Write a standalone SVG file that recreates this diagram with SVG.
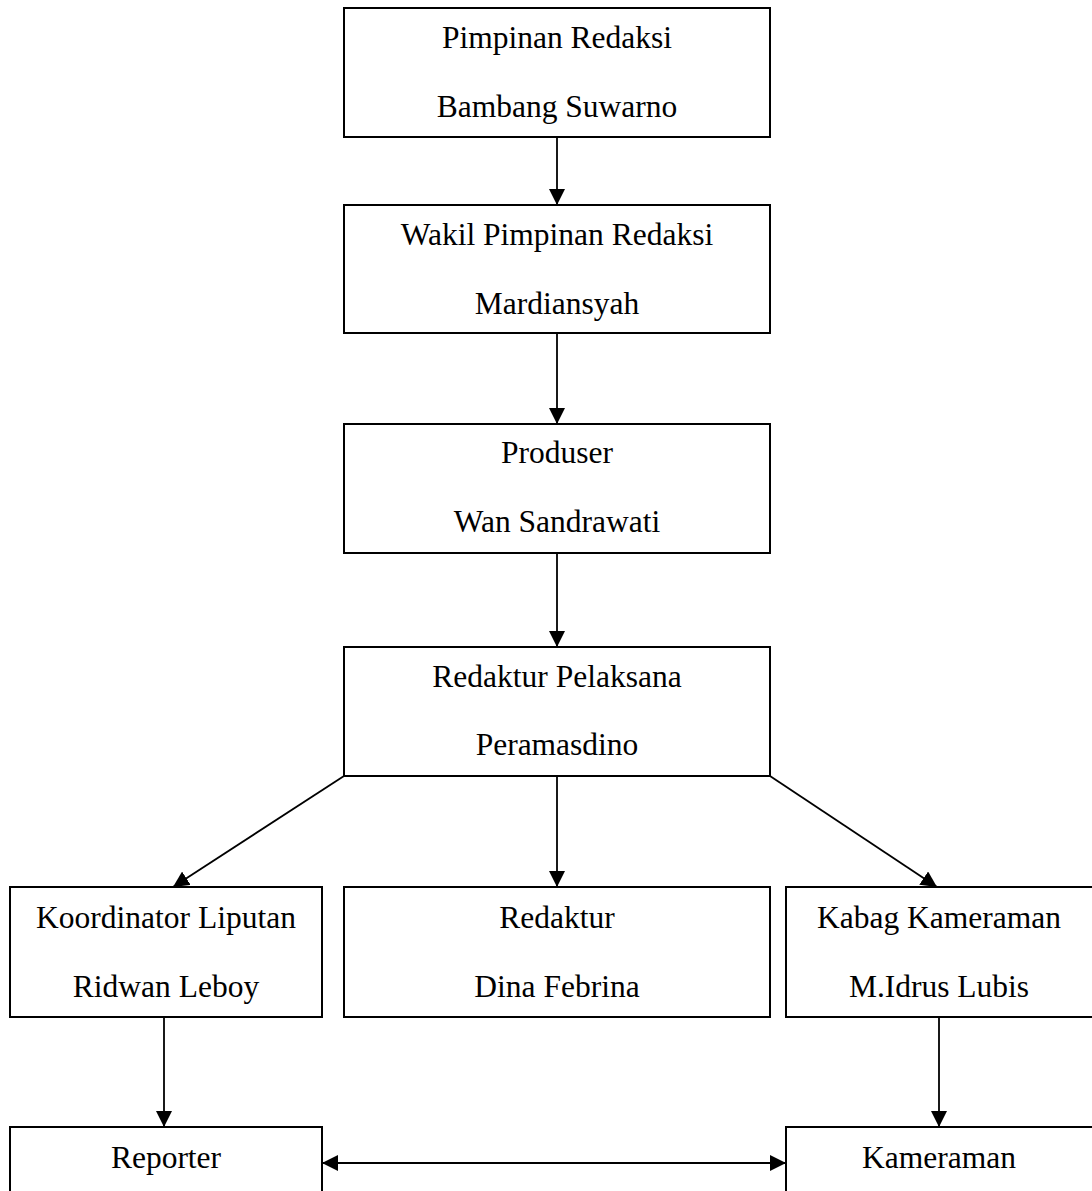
<svg xmlns="http://www.w3.org/2000/svg" width="1092" height="1191" viewBox="0 0 1092 1191">
<style>
.box{fill:#fff;stroke:#000;stroke-width:2}
.lbl{font-family:"Liberation Serif","Times New Roman",serif;font-size:31.5px;fill:#000;text-anchor:middle}
.con{stroke:#000;stroke-width:1.8;fill:none}
</style>
<defs>
<marker id="ah" viewBox="0 0 16 16" refX="16" refY="8" markerWidth="16" markerHeight="16" markerUnits="userSpaceOnUse" orient="auto-start-reverse">
<path d="M0,0 L16,8 L0,16 Z" fill="#000"/>
</marker>
</defs>
<rect width="1092" height="1191" fill="#fff"/>
<g id="connectors">
<line class="con" x1="557" y1="137" x2="557" y2="205" marker-end="url(#ah)"/>
<line class="con" x1="557" y1="333" x2="557" y2="424" marker-end="url(#ah)"/>
<line class="con" x1="557" y1="553" x2="557" y2="647" marker-end="url(#ah)"/>
<line class="con" x1="557" y1="776" x2="557" y2="887" marker-end="url(#ah)"/>
<line class="con" x1="344" y1="776" x2="173" y2="887" marker-end="url(#ah)"/>
<line class="con" x1="770" y1="776" x2="937" y2="887" marker-end="url(#ah)"/>
<line class="con" x1="164" y1="1017" x2="164" y2="1127" marker-end="url(#ah)"/>
<line class="con" x1="939" y1="1017" x2="939" y2="1127" marker-end="url(#ah)"/>
<line class="con" x1="322" y1="1163" x2="786" y2="1163" marker-start="url(#ah)" marker-end="url(#ah)"/>
</g>
<g id="pimpinan">
<rect class="box" x="344" y="8" width="426" height="129"/>
<text class="lbl" x="557" y="48">Pimpinan Redaksi</text>
<text class="lbl" x="557" y="117">Bambang Suwarno</text>
</g>
<g id="wakil">
<rect class="box" x="344" y="205" width="426" height="128"/>
<text class="lbl" x="557" y="245">Wakil Pimpinan Redaksi</text>
<text class="lbl" x="557" y="314">Mardiansyah</text>
</g>
<g id="produser">
<rect class="box" x="344" y="424" width="426" height="129"/>
<text class="lbl" x="557" y="463">Produser</text>
<text class="lbl" x="557" y="532">Wan Sandrawati</text>
</g>
<g id="redpel">
<rect class="box" x="344" y="647" width="426" height="129"/>
<text class="lbl" x="557" y="687">Redaktur Pelaksana</text>
<text class="lbl" x="557" y="755">Peramasdino</text>
</g>
<g id="korlip">
<rect class="box" x="10" y="887" width="312" height="130"/>
<text class="lbl" x="166" y="928">Koordinator Liputan</text>
<text class="lbl" x="166" y="997">Ridwan Leboy</text>
</g>
<g id="redaktur">
<rect class="box" x="344" y="887" width="426" height="130"/>
<text class="lbl" x="557" y="928">Redaktur</text>
<text class="lbl" x="557" y="997">Dina Febrina</text>
</g>
<g id="kabag">
<rect class="box" x="786" y="887" width="320" height="130"/>
<text class="lbl" x="939" y="928">Kabag Kameraman</text>
<text class="lbl" x="939" y="997">M.Idrus Lubis</text>
</g>
<g id="reporter">
<rect class="box" x="10" y="1127" width="312" height="80"/>
<text class="lbl" x="166" y="1168">Reporter</text>
</g>
<g id="kameraman">
<rect class="box" x="786" y="1127" width="320" height="80"/>
<text class="lbl" x="939" y="1168">Kameraman</text>
</g>
</svg>
